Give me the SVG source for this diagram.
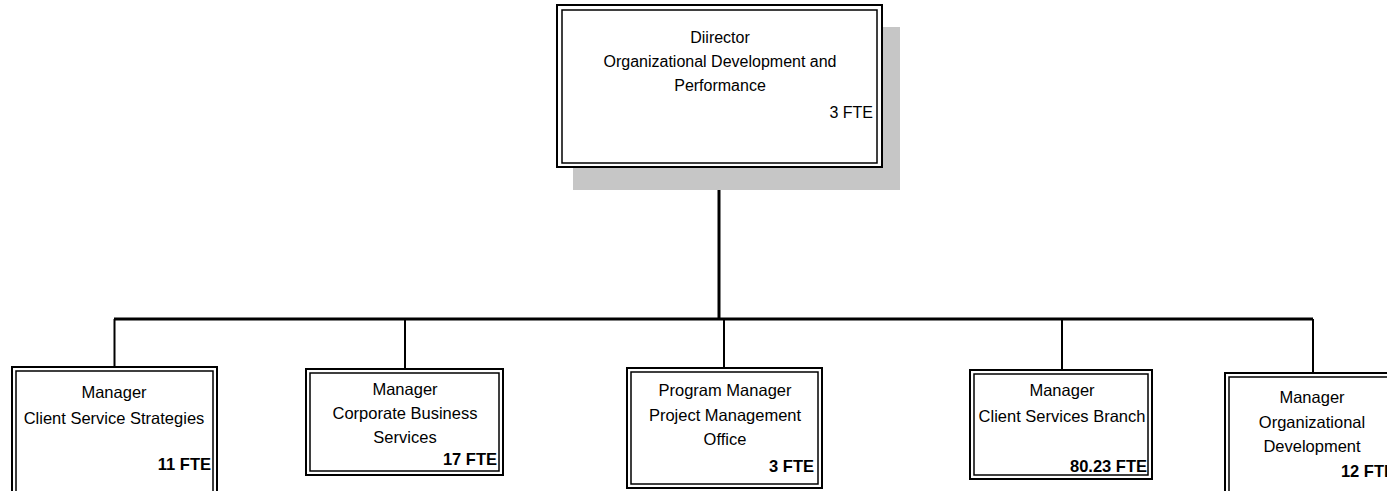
<svg xmlns="http://www.w3.org/2000/svg" width="1387" height="491" viewBox="0 0 1387 491">
<style>
.o{fill:#fff;stroke:#000;stroke-width:2}
.i{fill:none;stroke:#000;stroke-width:1.5}
.t{font-family:"Liberation Sans",Arial,sans-serif;font-size:16.5px;fill:#000;text-anchor:middle}
.d{font-size:16px}
.f{text-anchor:end}
.b{font-weight:bold}
.c{stroke:#000;fill:none}
</style>
<rect width="1387" height="491" fill="#fff"/>
<g id="connectors">
<line class="c" x1="719" y1="167" x2="719" y2="319" stroke-width="3"/>
<line class="c" x1="114" y1="319" x2="1313" y2="319" stroke-width="3"/>
<line class="c" x1="114.5" y1="319" x2="114.5" y2="367" stroke-width="2"/>
<line class="c" x1="405" y1="319" x2="405" y2="369" stroke-width="2"/>
<line class="c" x1="724" y1="319" x2="724" y2="368" stroke-width="2"/>
<line class="c" x1="1062" y1="319" x2="1062" y2="370" stroke-width="2"/>
<line class="c" x1="1313" y1="319" x2="1313" y2="373" stroke-width="2"/>
</g>
<g id="director">
<rect x="573" y="27" width="327" height="163" fill="#c6c6c6"/>
<rect class="o" x="557" y="5" width="325" height="162"/>
<rect class="i" x="562" y="10" width="315" height="153"/>
<text class="t d" x="720" y="43">Diirector</text>
<text class="t d" x="720" y="67">Organizational Development and</text>
<text class="t d" x="720" y="91">Performance</text>
<text class="t d f" x="873" y="118">3 FTE</text>
</g>
<g id="client-service-strategies">
<rect class="o" x="12" y="367" width="205" height="140"/>
<rect class="i" x="16" y="371" width="197" height="140"/>
<text class="t" x="114" y="398">Manager</text>
<text class="t" x="114" y="424">Client Service Strategies</text>
<text class="t f b" x="211" y="470">11 FTE</text>
</g>
<g id="corporate-business-services">
<rect class="o" x="306" y="369" width="197" height="106"/>
<rect class="i" x="310" y="373" width="189" height="98"/>
<text class="t" x="405" y="395">Manager</text>
<text class="t" x="405" y="419">Corporate Business</text>
<text class="t" x="405" y="443">Services</text>
<text class="t f b" x="497" y="465">17 FTE</text>
</g>
<g id="project-management-office">
<rect class="o" x="627" y="368" width="195" height="120"/>
<rect class="i" x="631" y="372" width="187" height="112"/>
<text class="t" x="725" y="396">Program Manager</text>
<text class="t" x="725" y="421">Project Management</text>
<text class="t" x="725" y="445">Office</text>
<text class="t f b" x="814" y="472">3 FTE</text>
</g>
<g id="client-services-branch">
<rect class="o" x="970" y="370" width="182" height="109"/>
<rect class="i" x="974" y="374" width="174" height="101"/>
<text class="t" x="1062" y="396">Manager</text>
<text class="t" x="1062" y="422">Client Services Branch</text>
<text class="t f b" x="1147" y="472">80.23 FTE</text>
</g>
<g id="organizational-development">
<rect class="o" x="1225" y="373" width="176" height="140"/>
<rect class="i" x="1229" y="377" width="168" height="140"/>
<text class="t" x="1312" y="403">Manager</text>
<text class="t" x="1312" y="428">Organizational</text>
<text class="t" x="1312" y="452">Development</text>
<text class="t f b" x="1395" y="477">12 FTE</text>
</g>
</svg>
